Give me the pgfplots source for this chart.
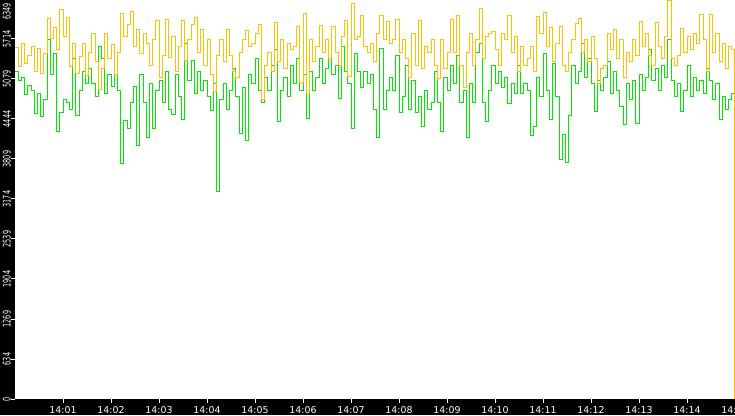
\documentclass[border=0pt]{standalone}
\usepackage{fontspec}
\setmainfont{DejaVu Sans}
\usepackage{pgfplots}
\usepackage{pgfplotstable}
\pgfplotsset{compat=1.18}

\definecolor{amber}{RGB}{255,192,0}
\definecolor{lime}{RGB}{0,232,0}
% y tick labels are set narrow, as in the reference
\newcommand{\yl}[1]{\scalebox{0.62}[1]{#1}}

% t = seconds after 14:00, o = orange series, g = green series
\pgfplotstableread{
t o g
0 5580 5200
4 5270 5050
8 5640 5100
12 5330 4830
16 5450 4980
20 5590 4900
24 5200 4530
28 5560 4850
32 5170 4480
36 5480 4750
40 6040 5700
44 5720 5150
48 5900 5480
52 5540 4250
56 6180 4550
60 5760 4760
64 6060 4700
68 5280 4600
72 5650 5400
76 5170 4500
80 5440 4900
84 5640 5200
88 5130 5000
92 5500 5250
96 5800 5000
100 5350 4800
104 4910 5590
108 5240 5400
112 5800 4850
116 5400 5150
120 5620 4960
124 5150 5150
128 5500 4900
132 6120 3740
136 5760 4420
140 5950 4300
144 6150 4700
148 5600 4960
152 5860 4030
156 5480 5150
160 5800 4700
164 5650 4150
168 5300 5000
172 5700 4300
176 6010 4900
180 5100 5050
184 5450 4700
188 6020 5200
192 5420 4600
196 5750 4510
200 5200 5150
204 5600 4800
208 6010 4430
212 5380 5640
216 5700 5050
220 5950 5380
224 6060 4850
228 5500 5200
232 5860 4900
236 5300 5060
240 5700 4800
244 5150 4580
248 4880 5000
252 5450 3300
256 5700 4750
260 5350 5000
264 5860 4600
268 5450 4900
272 5200 5250
276 5110 4800
280 5500 4220
284 5700 4950
288 5850 4100
292 5600 5150
296 5650 5000
300 5800 5400
304 5940 4900
308 4750 4700
312 5300 5100
316 5500 4900
320 5200 5300
324 5980 5540
328 5350 4400
332 5700 4900
336 5250 5100
340 5640 4800
344 5550 5300
348 5600 5000
352 5910 5400
356 5030 4900
360 6120 5150
364 4850 4450
368 5700 5200
372 5350 4900
376 5600 5100
380 5930 5400
384 5500 5000
388 5700 5250
392 5400 5400
396 5920 5150
400 5500 5300
404 5300 4770
408 5750 5590
412 6010 5200
416 5120 5000
420 6270 4300
424 5700 5480
428 5750 5200
432 6090 4950
436 5600 5200
440 5500 5000
444 5650 5150
448 5350 4600
452 5800 4150
456 6090 5560
460 5700 4600
464 5990 4900
468 5650 5100
472 5700 4900
476 6020 5460
480 5500 4550
484 5700 4800
488 5400 5300
492 5110 4600
496 5800 5050
500 5300 4550
504 6000 4800
508 5250 4320
512 5600 4900
516 5500 4600
520 5700 4700
524 5300 5200
528 5080 4700
532 5700 4250
536 5250 5100
540 5500 4900
544 6020 5300
548 5500 5000
552 6090 5450
556 5300 4700
560 4950 4900
564 5500 4150
568 5800 5000
572 5300 4700
576 5700 5500
580 6200 5640
584 5400 4700
588 5750 4400
592 5800 4900
596 5830 5300
600 5550 5000
604 5300 5200
608 5800 4950
612 5700 5100
616 6080 4690
620 5500 5000
624 5750 4850
628 5200 5300
632 5600 4850
636 5300 5000
640 5400 4900
644 5600 4190
648 5200 4320
652 6070 5100
656 5800 4800
660 6130 5480
664 5600 4900
668 5900 4430
672 5350 5330
676 5650 4800
680 5910 3800
684 5300 4200
688 5200 3760
692 5500 4500
696 5700 5300
700 5960 5000
704 6040 5200
708 5500 5640
712 5700 5100
716 5350 5400
720 5750 5000
724 5400 4560
728 5010 5050
732 5250 4900
736 5300 5100
740 5800 5350
744 5550 4850
748 5860 5200
752 5400 4900
756 5700 4650
760 5100 4350
764 5500 5000
768 5350 4750
772 5700 5050
776 5450 4380
780 5990 5150
784 5600 4900
788 5800 5100
792 5450 5540
796 5300 5050
800 5970 5250
804 5600 4900
808 5400 5300
812 5750 5100
816 6330 5700
820 5400 5050
824 5300 4800
828 5450 5000
832 5880 4560
836 5500 4900
840 5750 5300
844 5550 4800
848 5800 5100
852 5650 4900
856 6110 5050
860 5700 4850
864 5200 5250
868 6110 5050
872 5500 4750
876 5800 5000
880 5350 4430
884 5650 4800
888 5250 4600
892 5600 4750
896 5550 4850
899 0 2450
}\rates

\begin{document}
\begin{tikzpicture}[x=1pt,y=1pt]
\useasboundingbox (0,0) rectangle (735,415);
\clip (0,0) rectangle (735,415);
\fill[black] (0,0) rectangle (735,415);
\begin{axis}[
    at={(15pt,16pt)}, anchor=south west,
    scale only axis,
    width=720pt, height=400pt,
    xmin=0, xmax=900,
    ymin=0, ymax=6349,
    axis background/.style={fill=white},
    axis line style={draw=none},
    tick align=outside,
    xtick pos=bottom, ytick pos=left,
    major tick length=4pt,
    tick style={white, line width=1pt},
    xtick={60,120,180,240,300,360,420,480,540,600,660,720,780,840,900},
    xticklabels={14:01,14:02,14:03,14:04,14:05,14:06,14:07,14:08,14:09,14:10,14:11,14:12,14:13,14:14,14:15},
    ytick={0,634.9,1269.8,1904.7,2539.6,3174.5,3809.4,4444.3,5079.2,5714.1},
    yticklabels={\yl{0},\yl{634},\yl{1269},\yl{1904},\yl{2539},\yl{3174},\yl{3809},\yl{4444},\yl{5079},\yl{5714}},
    extra y ticks={6349},
    % the top label hangs below its tick, inside the picture
    extra y tick labels={\yl{6349}\hspace*{25pt}},
    ticklabel style={text=white},
    xticklabel style={font=\fontsize{9.4}{11}\selectfont},
    yticklabel style={font=\fontsize{10.5}{12}\selectfont,
        rotate=90, anchor=south, inner sep=0pt},
]
    % green first, orange over it
    \addplot[const plot, lime, line width=1pt] table[x=t, y=g] {\rates};
    \addplot[const plot, amber, line width=1pt] table[x=t, y=o] {\rates};
\end{axis}
\end{tikzpicture}
\end{document}
